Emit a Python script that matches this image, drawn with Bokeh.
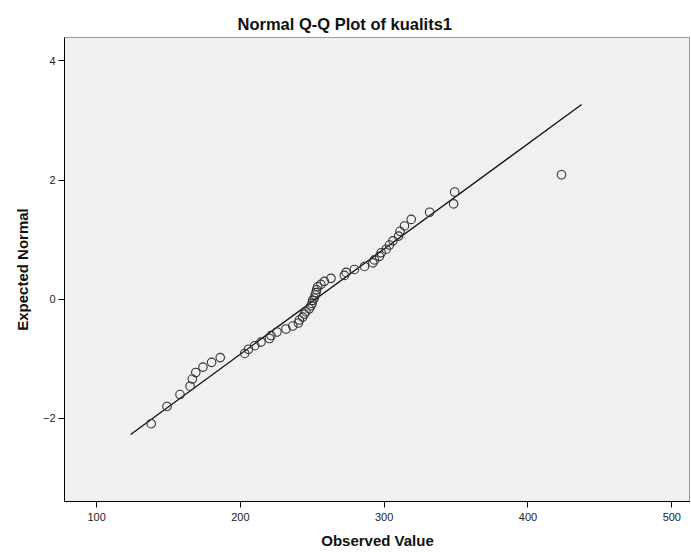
from bokeh.plotting import figure
from bokeh.embed import file_html
from bokeh.resources import INLINE
from bokeh.models import Title, FixedTicker

# ---- data ----
observed = [138, 149, 158, 165, 166.6, 169, 174, 180, 186, 203,
            205.6, 210, 214.3, 220.2, 221.3, 225.4, 231.7, 236.4, 240.3, 241,
            243.3, 244.5, 245.6, 247.9, 249.1, 249.8, 250.3, 251.4, 252, 252.6,
            253, 253.8, 256, 258.4, 263, 272.3, 273.5, 279.3, 286.3, 292.1,
            293.2, 296.7, 297.9, 301.4, 303.7, 306.1, 310, 311, 314.1, 318.8,
            331.6, 348.3, 349, 423.3]
expected = [-2.09, -1.80, -1.60, -1.46, -1.34, -1.23, -1.14, -1.06, -0.98, -0.91,
            -0.84, -0.78, -0.72, -0.66, -0.61, -0.55, -0.50, -0.45, -0.40, -0.35,
            -0.30, -0.25, -0.21, -0.16, -0.11, -0.07, -0.02, 0.02, 0.07, 0.11,
            0.16, 0.21, 0.25, 0.30, 0.35, 0.40, 0.45, 0.50, 0.55, 0.61,
            0.66, 0.72, 0.78, 0.84, 0.91, 0.98, 1.06, 1.14, 1.23, 1.34,
            1.46, 1.60, 1.80, 2.09]
line_x = [123.7, 437.3]
line_y = [-2.27, 3.27]
x_ticks = [100, 200, 300, 400, 500]
y_ticks = [-2, 0, 2, 4]
title_text = "Normal Q-Q Plot of kualits1"
x_label = "Observed Value"
y_label = "Expected Normal"

FONT = "Liberation Sans"

p = figure(width=690, height=551, output_backend="svg", toolbar_location=None,
           x_range=(77.7, 513.0), y_range=(-3.396, 4.394),
           min_border_left=64, min_border_right=0, min_border_top=37,
           min_border_bottom=48, background_fill_color="#F0F0F0",
           border_fill_color="white")

p.title = Title(text=title_text, align="left", offset=173,
                text_font=FONT, text_font_size="16.5px", text_font_style="bold",
                text_color="#111111")

p.grid.visible = False
p.outline_line_color = "#9a9a9a"
p.outline_line_width = 1

for ax in (p.xaxis[0], p.yaxis[0]):
    ax.axis_line_color = "black"
    ax.axis_line_width = 1
    ax.major_tick_line_color = "black"
    ax.major_tick_out = 6
    ax.major_tick_in = 0
    ax.minor_tick_line_color = None
    ax.major_label_text_font = FONT
    ax.major_label_text_font_size = "11px"
    ax.major_label_text_color = "#222222"
    ax.axis_label_text_font = FONT
    ax.axis_label_text_font_size = "15px"
    ax.axis_label_text_font_style = "bold"
    ax.axis_label_text_color = "#111111"

p.xaxis.ticker = FixedTicker(ticks=x_ticks)
p.yaxis.ticker = FixedTicker(ticks=y_ticks)
p.xaxis.axis_label = x_label
p.yaxis.axis_label = y_label
p.xaxis.major_label_standoff = 5
p.yaxis.major_label_standoff = 3
p.xaxis.axis_label_standoff = 8
p.yaxis.axis_label_standoff = 9

p.line(line_x, line_y, line_color="#111111", line_width=1.3)
p.scatter(observed, expected, size=8.5, fill_color=None,
          line_color="#333333", line_width=1.1)

open("out.html", "w").write(file_html(p, INLINE))
